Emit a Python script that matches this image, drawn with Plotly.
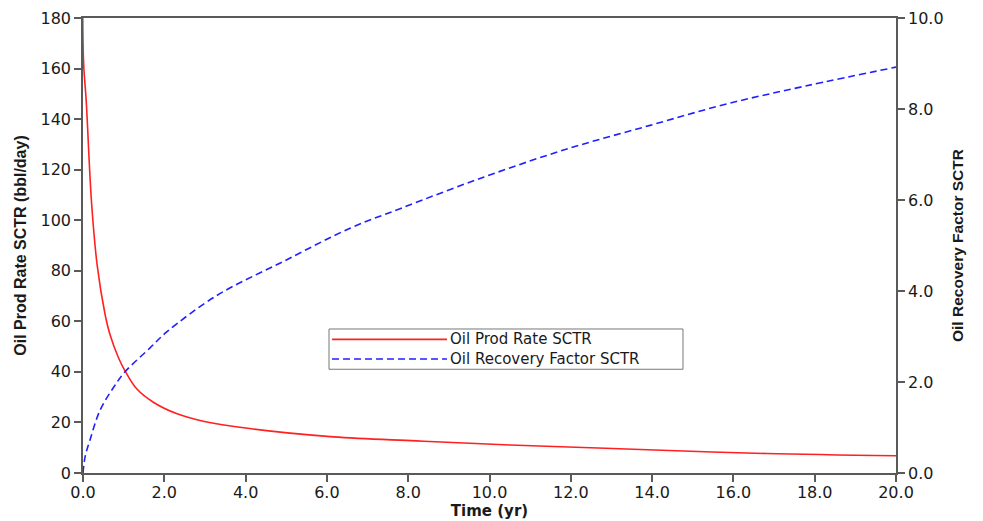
import plotly.graph_objects as go

# Oil production rate (bbl/day) vs time (yr)
rate_time = [0, 0.01, 0.08, 0.21, 0.35, 0.54, 0.66, 0.87, 1.03, 1.32, 1.73, 2.3, 2.88,
             4.1, 6.16, 8.2, 10.5, 13.54, 16.8, 20.0]
oil_rate = [250, 164, 147, 107, 82, 63, 55, 45.7, 40.5, 33.3, 28, 23.5, 20.8,
            17.6, 14.3, 12.7, 11.1, 9.4, 7.7, 6.8]

# Oil recovery factor vs time (yr)
rf_time = [0, 0.05, 0.17, 0.42, 0.75, 1.03, 1.65, 2.06, 3.29, 4.93, 6.57, 7.8, 9.85,
           11.9, 13.95, 15.83, 17.8, 20.0]
recovery_factor = [0.0, 0.35, 0.72, 1.38, 1.88, 2.22, 2.75, 3.1, 3.9, 4.65, 5.38, 5.81, 6.5,
                   7.12, 7.64, 8.11, 8.51, 8.92]

series_names = ["Oil Prod Rate SCTR", "Oil Recovery Factor SCTR"]
series_colors = ["#ff2020", "#2020ff"]

x_ticks = [0, 2, 4, 6, 8, 10, 12, 14, 16, 18, 20]
y_ticks = [0, 20, 40, 60, 80, 100, 120, 140, 160, 180]
y2_ticks = [0, 2, 4, 6, 8, 10]

FONT = "DejaVu Sans, Verdana, sans-serif"
TFONT = "Liberation Sans, Arial, sans-serif"
AX = "#5a5a5a"

fig = go.Figure()
fig.add_trace(go.Scatter(x=rate_time, y=oil_rate, mode="lines", name=series_names[0],
                         line=dict(color=series_colors[0], width=1.6), line_shape="spline"))
fig.add_trace(go.Scatter(x=rf_time, y=recovery_factor, mode="lines", name=series_names[1],
                         yaxis="y2", line=dict(color=series_colors[1], width=1.6, dash="7px,4px"),
                         line_shape="spline"))

axis_common = dict(showline=True, linecolor=AX, linewidth=1.6, ticks="outside", ticklen=7,
                   tickcolor=AX, tickwidth=1.6, showgrid=False, zeroline=False, automargin=False,
                   ticklabeloverflow="allow",
                   tickfont=dict(family=FONT, size=16, color="#1a1a1a"))

# legend drawn as a framed box in plot-area (paper) coordinates
legend_shapes = [
    dict(type="rect", xref="paper", yref="paper", x0=0.3026, x1=0.738, y0=0.228, y1=0.3165,
         line=dict(color="#777", width=1), fillcolor="white", layer="above"),
    dict(type="line", xref="paper", yref="paper", x0=0.3063, x1=0.4477, y0=0.2936, y1=0.2936,
         line=dict(color=series_colors[0], width=1.6), layer="above"),
    dict(type="line", xref="paper", yref="paper", x0=0.3063, x1=0.4477, y0=0.2507, y1=0.2507,
         line=dict(color=series_colors[1], width=1.6, dash="7px,4px"), layer="above"),
]
legend_labels = [
    dict(text=series_names[0] + "<br>" + series_names[1], xref="paper", yref="paper",
         x=0.4490, y=0.2721, xanchor="left", yanchor="middle", align="left", showarrow=False,
         font=dict(family=FONT, size=15, color="#1a1a1a")),
]

fig.update_layout(
    width=975, height=513,
    margin=dict(l=75, r=87, t=10, b=48),
    paper_bgcolor="white", plot_bgcolor="white",
    showlegend=False,
    shapes=legend_shapes,
    annotations=legend_labels,
    xaxis=dict(range=[0, 20], tickvals=x_ticks, tickformat=".1f", mirror=True,
               ticklabelstandoff=-3,
               title=dict(text="<b>Time (yr)</b>", standoff=4,
                          font=dict(family=FONT, size=15, color="#1a1a1a")),
               **axis_common),
    yaxis=dict(range=[0, 180], tickvals=y_ticks,
               title=dict(text="<b>Oil Prod Rate SCTR (bbl/day)</b>", standoff=10,
                          font=dict(family=TFONT, size=16, color="#1a1a1a")),
               **axis_common),
    yaxis2=dict(range=[0, 10], tickvals=y2_ticks, tickformat=".1f", overlaying="y", side="right",
                title=dict(text="<b>Oil Recovery Factor SCTR</b>", standoff=10,
                           font=dict(family=TFONT, size=15.5, color="#1a1a1a")),
                **axis_common),
)

fig.write_html("out.html")
